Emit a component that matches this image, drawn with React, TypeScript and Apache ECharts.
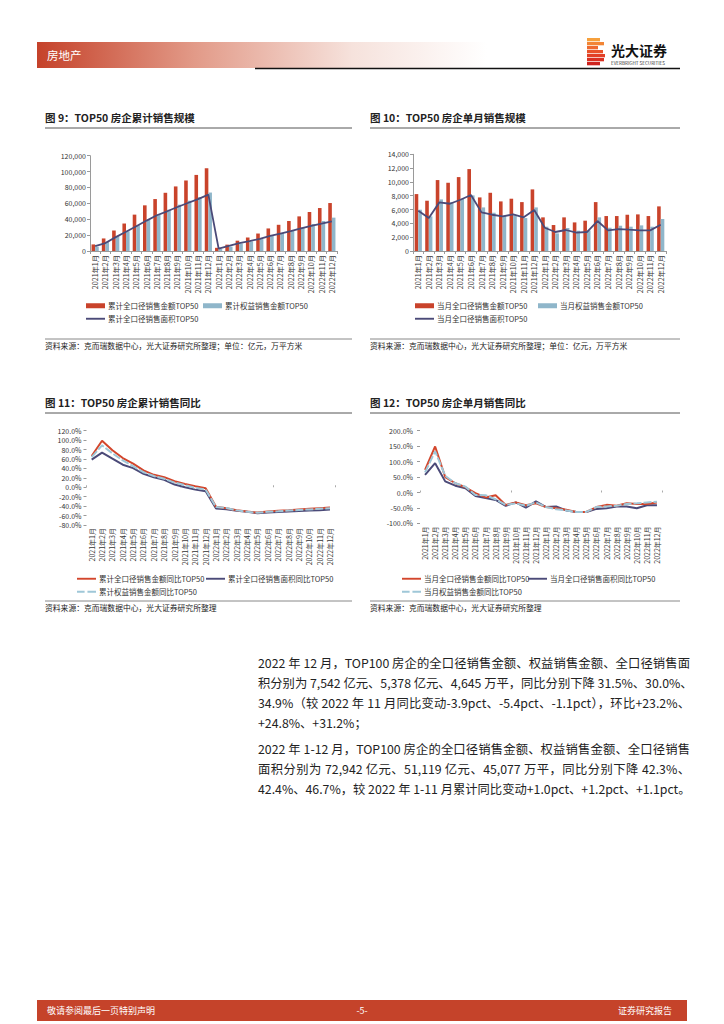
import React, { useEffect, useRef } from 'react';
import * as echarts from 'echarts';

const FONT = '"Noto Sans CJK SC", "Noto Sans", sans-serif';

const months = [
  '2021年1月', '2021年2月', '2021年3月', '2021年4月', '2021年5月', '2021年6月',
  '2021年7月', '2021年8月', '2021年9月', '2021年10月', '2021年11月', '2021年12月',
  '2022年1月', '2022年2月', '2022年3月', '2022年4月', '2022年5月', '2022年6月',
  '2022年7月', '2022年8月', '2022年9月', '2022年10月', '2022年11月', '2022年12月',
];

// 图9 累计 (亿元, 万平方米)
const cumAmount = [8300, 15800, 25800, 34600, 45800, 57500, 65400, 73300, 81300, 88800, 95800, 104200,
  4000, 8000, 13000, 17000, 22000, 28400, 33000, 37800, 43600, 49100, 54100, 60400];
const cumEquity = [5400, 11700, 18800, 25000, 32500, 39600, 45800, 52000, 58300, 63300, 68000, 73600,
  2500, 5500, 9500, 12000, 15000, 19600, 22600, 25500, 29500, 34000, 37800, 42000];
const cumArea = [6200, 10000, 17500, 24200, 31200, 38300, 45000, 50000, 55400, 60400, 65400, 71000,
  3000, 6500, 10000, 12500, 15300, 19000, 22000, 25000, 28500, 31700, 34600, 37400];

// 图10 单月
const monAmount = [8240, 7280, 10270, 9880, 10700, 11860, 7760, 8430, 7180, 7570, 7080, 8920,
  4870, 3760, 4870, 4140, 4390, 7080, 5060, 5060, 5250, 5300, 5060, 6460];
const monEquity = [5980, 5010, 7470, 7080, 7570, 8050, 6310, 5540, 5110, 5160, 4770, 6310,
  3520, 2550, 3330, 2940, 2990, 4870, 3370, 3660, 3520, 3710, 3520, 4630];
const monArea = [5830, 4770, 7040, 6840, 7420, 8100, 5590, 5250, 5010, 5300, 4870, 5930,
  3370, 2750, 3040, 2650, 2750, 4340, 2990, 3180, 3080, 2990, 2990, 3810];

// 图11 累计同比 (%)
const yoyCumAmount = [66.4, 98.6, 78.6, 62, 50, 35.7, 26.4, 21.4, 12.9, 7.1, 2.1, -2.1,
  -41.4, -44.3, -48.6, -51.4, -53.6, -51.4, -50, -48.6, -47.1, -45.7, -44.3, -42.9];
const yoyCumEquity = [64, 89, 72, 57, 45, 32, 24, 18, 10, 4.5, -1, -5,
  -42, -44, -49, -52, -54, -52, -51, -49.5, -48, -47, -45.5, -44.5];
const yoyCumArea = [58.6, 73.6, 60.7, 47.9, 40.7, 28.6, 21.4, 15.7, 5.7, 0, -5, -8.6,
  -45, -46.4, -50, -52.1, -55, -53.6, -52.5, -51.5, -50.5, -49.5, -48.5, -47.1];

// 图12 单月同比 (%)
const yoyMonAmount = [73, 149, 50, 30, 17, -2, -16, -9, -40, -32, -41, -35,
  -47, -51, -56, -63, -63, -47, -40, -43, -35, -37, -37, -32];
const yoyMonEquity = [65, 133, 54, 30, 19, -8, -9, -22, -40, -35, -43, -32,
  -47, -54, -58, -63, -63, -47, -45, -43, -37, -35, -32, -30];
const yoyMonArea = [57, 95, 36, 22, 14, -11, -18, -24, -43, -32, -49, -29,
  -47, -45, -58, -63, -63, -53, -51, -45, -45, -51, -41, -41];

const paragraph1 = [
  '2022 年 12 月，TOP100 房企的全口径销售金额、权益销售金额、全口径销售面',
  '积分别为 7,542 亿元、5,378 亿元、4,645 万平，同比分别下降 31.5%、30.0%、',
  '34.9%（较 2022 年 11 月同比变动-3.9pct、-5.4pct、-1.1pct），环比+23.2%、',
  '+24.8%、+31.2%；',
];
const paragraph2 = [
  '2022 年 1-12 月，TOP100 房企的全口径销售金额、权益销售金额、全口径销售',
  '面积分别为 72,942 亿元、51,119 亿元、45,077 万平，同比分别下降 42.3%、',
  '42.4%、46.7%，较 2022 年 1-11 月累计同比变动+1.0pct、+1.2pct、+1.1pct。',
];

const RED = '#c9432b';
const BLUE = '#8fb6ca';
const PURPLE = '#4b4a78';
const LRED = '#d3462c';
const LBLUE = '#9fc7d8';

const axisGray = '#9a9a9a';

const SOLID_ICON = 'path://M0,0L20,0L20,2L0,2Z';
const DASH_ICON = 'path://M0,0L8,0L8,2L0,2Z M11,0L20,0L20,2L11,2Z';

function barCatAxis(gridIndex: number) {
  return {
    type: 'category', gridIndex, data: months,
    axisLine: { lineStyle: { color: axisGray, width: 1 } },
    axisTick: { show: true, length: 3, lineStyle: { color: axisGray } },
    axisLabel: { rotate: 90, interval: 0, fontSize: 7.2, color: '#333', margin: 4, fontFamily: FONT },
  };
}
function barValAxis(gridIndex: number, max: number, interval: number) {
  return {
    type: 'value', gridIndex, min: 0, max, interval,
    axisLine: { show: true, lineStyle: { color: axisGray } },
    axisTick: { show: true, length: 3, lineStyle: { color: axisGray } },
    splitLine: { show: false },
    axisLabel: { fontSize: 7, color: '#333', margin: 4, fontFamily: FONT,
      formatter: (v: number) => v.toLocaleString('en-US') },
  };
}
function pctValAxis(gridIndex: number, min: number, max: number, interval: number, margin: number) {
  return {
    type: 'value', gridIndex, min, max, interval,
    axisLine: { show: false },
    axisTick: { show: true, length: 3, lineStyle: { color: axisGray } },
    splitLine: { show: false },
    axisLabel: { fontSize: 7, color: '#333', margin, fontFamily: FONT,
      formatter: (v: number) => v.toFixed(1) + '%' },
  };
}
function lblAxis(gridIndex: number) {
  return {
    type: 'category', gridIndex, data: months, position: 'bottom',
    axisLine: { show: false, onZero: false },
    axisTick: { show: false },
    axisLabel: { rotate: 90, interval: 0, fontSize: 7, color: '#333', margin: 3, fontFamily: FONT },
  };
}
function zeroAxis(gridIndex: number) {
  return {
    type: 'category', gridIndex, data: months, position: 'top',
    axisLine: { show: false, onZero: true },
    axisTick: { show: true, length: 2, inside: false, lineStyle: { color: '#aaa' } },
    axisLabel: { show: false },
  };
}

function legend(name: string, left: number, top: number, icon: string, h = 5) {
  return {
    data: [name], left, top, itemWidth: 19, itemHeight: h, itemGap: 0, padding: 0, icon,
    textStyle: { fontSize: 7.5, color: '#333', fontFamily: FONT, padding: [0, 0, 0, -2] },
    selectedMode: false,
  };
}

function txt(text: string, x: number, y: number, size: number, opts: any = {}) {
  return {
    type: 'text', x, y, silent: true,
    style: { text, fontSize: size, fontFamily: FONT, fill: opts.fill || '#222',
      fontWeight: opts.bold ? 'bold' : 'normal', verticalAlign: 'middle', align: opts.align || 'left' },
  };
}
function hline(x1: number, x2: number, y: number, color: string, w: number) {
  return { type: 'line', silent: true, shape: { x1, y1: y, x2, y2: y }, style: { stroke: color, lineWidth: w } };
}

const logoColors = ['#f6a03c', '#f28535', '#ee6a2f', '#e9522a', '#e23f26', '#d93022', '#cf241f'];
const logoWidths = [13, 17, 11, 16, 18, 17, 13];
const logo = logoWidths.map((w, i) => ({
  type: 'rect', silent: true,
  shape: { x: 587, y: 38 + i * 4, width: w, height: 3.3 },
  style: { fill: logoColors[i] },
}));

const option: any = {
  animation: false,
  backgroundColor: '#fff',
  textStyle: { fontFamily: FONT },
  grid: [
    { left: 90, top: 155.7, width: 247, height: 95.3 },
    { left: 413, top: 154.3, width: 253, height: 96.7 },
    { left: 86.5, top: 430.7, width: 248.7, height: 94.3 },
    { left: 420, top: 430.7, width: 242, height: 92.7 },
  ],
  xAxis: [barCatAxis(0), barCatAxis(1), lblAxis(2), zeroAxis(2), lblAxis(3), zeroAxis(3)],
  yAxis: [
    barValAxis(0, 120000, 20000),
    barValAxis(1, 14000, 2000),
    pctValAxis(2, -80, 120, 20, 5),
    pctValAxis(3, -100, 200, 50, 7),
  ],
  legend: [
    legend('累计全口径销售金额TOP50', 86, 302, 'rect'),
    legend('累计权益销售金额TOP50', 203, 302, 'rect'),
    legend('累计全口径销售面积TOP50', 86, 315, SOLID_ICON, 2.2),
    legend('当月全口径销售金额TOP50', 415, 302, 'rect'),
    legend('当月权益销售金额TOP50', 538, 302, 'rect'),
    legend('当月全口径销售面积TOP50', 415, 315, SOLID_ICON, 2.2),
    legend('累计全口径销售金额同比TOP50', 77, 575, SOLID_ICON, 2.4),
    legend('累计全口径销售面积同比TOP50', 206, 575, SOLID_ICON, 2.4),
    legend('累计权益销售金额同比TOP50', 77, 588, DASH_ICON, 2.4),
    legend('当月全口径销售金额同比TOP50', 402, 575, SOLID_ICON, 2.4),
    legend('当月全口径销售面积同比TOP50', 528, 575, SOLID_ICON, 2.4),
    legend('当月权益销售金额同比TOP50', 402, 588, DASH_ICON, 2.4),
  ],
  series: [
    { name: '累计全口径销售金额TOP50', type: 'bar', xAxisIndex: 0, yAxisIndex: 0, data: cumAmount,
      barWidth: 3.6, barGap: '0%', itemStyle: { color: RED } },
    { name: '累计权益销售金额TOP50', type: 'bar', xAxisIndex: 0, yAxisIndex: 0, data: cumEquity,
      barWidth: 3.6, barGap: '0%', itemStyle: { color: BLUE } },
    { name: '累计全口径销售面积TOP50', type: 'line', xAxisIndex: 0, yAxisIndex: 0, data: cumArea,
      symbol: 'none', lineStyle: { color: PURPLE, width: 1.8 }, itemStyle: { color: PURPLE } },

    { name: '当月全口径销售金额TOP50', type: 'bar', xAxisIndex: 1, yAxisIndex: 1, data: monAmount,
      barWidth: 3.6, barGap: '0%', itemStyle: { color: RED } },
    { name: '当月权益销售金额TOP50', type: 'bar', xAxisIndex: 1, yAxisIndex: 1, data: monEquity,
      barWidth: 3.6, barGap: '0%', itemStyle: { color: BLUE } },
    { name: '当月全口径销售面积TOP50', type: 'line', xAxisIndex: 1, yAxisIndex: 1, data: monArea,
      symbol: 'none', lineStyle: { color: PURPLE, width: 1.8 }, itemStyle: { color: PURPLE } },

    { name: '累计全口径销售金额同比TOP50', type: 'line', xAxisIndex: 2, yAxisIndex: 2, data: yoyCumAmount,
      symbol: 'none', lineStyle: { color: LRED, width: 2 }, itemStyle: { color: LRED }, z: 3 },
    { name: '累计全口径销售面积同比TOP50', type: 'line', xAxisIndex: 2, yAxisIndex: 2, data: yoyCumArea,
      symbol: 'none', lineStyle: { color: PURPLE, width: 2 }, itemStyle: { color: PURPLE }, z: 2 },
    { name: '累计权益销售金额同比TOP50', type: 'line', xAxisIndex: 2, yAxisIndex: 2, data: yoyCumEquity,
      symbol: 'none', lineStyle: { color: LBLUE, width: 2, type: [8, 2] }, itemStyle: { color: LBLUE }, z: 4 },

    { name: '当月全口径销售金额同比TOP50', type: 'line', xAxisIndex: 4, yAxisIndex: 3, data: yoyMonAmount,
      symbol: 'none', lineStyle: { color: LRED, width: 2 }, itemStyle: { color: LRED }, z: 3 },
    { name: '当月全口径销售面积同比TOP50', type: 'line', xAxisIndex: 4, yAxisIndex: 3, data: yoyMonArea,
      symbol: 'none', lineStyle: { color: PURPLE, width: 2 }, itemStyle: { color: PURPLE }, z: 2 },
    { name: '当月权益销售金额同比TOP50', type: 'line', xAxisIndex: 4, yAxisIndex: 3, data: yoyMonEquity,
      symbol: 'none', lineStyle: { color: LBLUE, width: 2, type: [8, 2] }, itemStyle: { color: LBLUE }, z: 4 },
  ],
  graphic: [
    // header
    { type: 'rect', silent: true, shape: { x: 37, y: 42, width: 450, height: 26 },
      style: { fill: new echarts.graphic.LinearGradient(0, 0, 1, 0, [
        { offset: 0, color: '#c5422a' }, { offset: 0.35, color: '#e29a88' },
        { offset: 0.7, color: '#f6e2dc' }, { offset: 1, color: '#ffffff' }]) } },
    txt('房地产', 47, 55, 11.5, { fill: '#ffffff' }),
    hline(255, 680, 68.5, '#111', 1.5),
    ...logo,
    txt('光大证券', 611, 50, 14, { bold: true, fill: '#111' }),
    txt('EVERBRIGHT SECURITIES', 611, 63, 4.6, { fill: '#333' }),

    // titles
    txt('图 9：TOP50 房企累计销售规模', 45, 117.5, 10.5, { bold: true }),
    hline(45, 352, 128, '#555', 1),
    txt('图 10：TOP50 房企单月销售规模', 370, 117.5, 10.5, { bold: true }),
    hline(370, 680, 128, '#555', 1),
    txt('图 11：TOP50 房企累计销售同比', 45, 402.5, 10.5, { bold: true }),
    hline(45, 352, 413, '#555', 1),
    txt('图 12：TOP50 房企单月销售同比', 370, 402.5, 10.5, { bold: true }),
    hline(370, 680, 413, '#555', 1),

    // sources
    hline(45, 352, 339, '#888', 1),
    txt('资料来源：克而瑞数据中心，光大证券研究所整理；单位：亿元，万平方米', 45, 345.5, 7.8),
    hline(370, 680, 339, '#888', 1),
    txt('资料来源：克而瑞数据中心，光大证券研究所整理；单位：亿元，万平方米', 370, 345.5, 7.8),
    hline(45, 352, 601, '#888', 1),
    txt('资料来源：克而瑞数据中心，光大证券研究所整理', 45, 607.5, 7.8),
    hline(370, 680, 601, '#888', 1),
    txt('资料来源：克而瑞数据中心，光大证券研究所整理', 370, 607.5, 7.8),

    // footer
    { type: 'rect', silent: true, shape: { x: 37, y: 1000, width: 650, height: 21 }, style: { fill: '#c5432a' } },
    txt('敬请参阅最后一页特别声明', 47, 1010.5, 9, { fill: '#fff' }),
    txt('-5-', 362, 1010.5, 9, { fill: '#fff', align: 'center' }),
    txt('证券研究报告', 672, 1010.5, 9, { fill: '#fff', align: 'right' }),
  ],
};

export default function App() {
  const ref = useRef<HTMLDivElement>(null);
  useEffect(() => {
    const chart = echarts.init(ref.current!, null, { renderer: 'svg' });
    chart.setOption(option);
    return () => chart.dispose();
  }, []);
  const lineStyle = (justify: boolean): React.CSSProperties => ({
    height: 20, whiteSpace: 'nowrap', textAlign: justify ? 'justify' : 'left',
    textAlignLast: justify ? 'justify' : 'left',
  } as React.CSSProperties);
  return (
    <div style={{ position: 'absolute', left: 0, top: 0, width: 724, height: 1024, background: '#fff', overflow: 'hidden' }}>
      <div ref={ref} style={{ position: 'absolute', left: 0, top: 0, width: 724, height: 1024 }} />
      <div style={{ position: 'absolute', left: 258, top: 653, width: 432, fontFamily: FONT,
        fontSize: 12.3, lineHeight: '20px', color: '#222' }}>
        {paragraph1.map((l, i) => (
          <div key={'a' + i} style={lineStyle(i < paragraph1.length - 1)}>{l}</div>
        ))}
        <div style={{ height: 6 }} />
        {paragraph2.map((l, i) => (
          <div key={'b' + i} style={lineStyle(true)}>{l}</div>
        ))}
      </div>
    </div>
  );
}
